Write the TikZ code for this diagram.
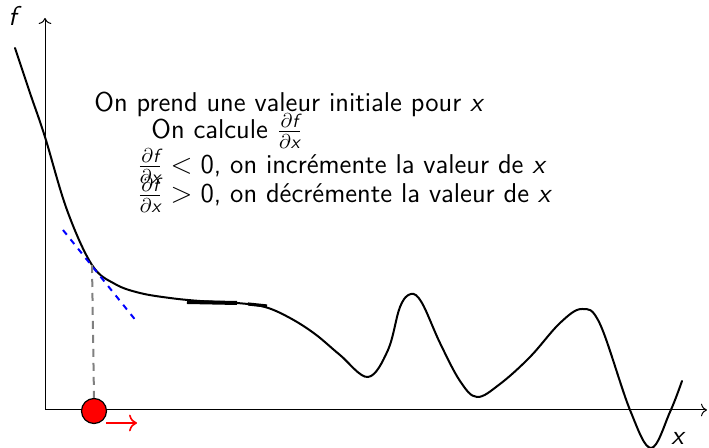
\documentclass[tikz,border=0pt]{standalone}
\usepackage{amsmath}
\usepackage{tikz}
\usetikzlibrary{arrows.meta}
\newcommand{\vf}{\textsf{\itshape f}}
\newcommand{\vx}{\textsf{\itshape x}}
\newcommand{\dfdx}{\frac{\partial\vf}{\partial\vx}}
\tikzset{
  axis/.style={-{To[length=3pt]}, line width=0.5pt},
  curve/.style={line width=1pt, line cap=round},
  flatmark/.style={line width=2pt},
  tangent/.style={dashed, blue, line width=1pt},
  guide/.style={dash pattern=on 4pt off 3pt, gray, line width=1pt},
  ball/.style={circle, draw, fill=red, minimum size=12.5pt, inner sep=0pt, line width=0.6pt},
  move/.style={-{To[length=4pt]}, red, line width=0.8pt},
  txt/.style={anchor=base west, inner sep=0pt, font=\sffamily\fontsize{13.6}{16}\selectfont},
}

\begin{document}
\begin{tikzpicture}[x=0.5pt, y=-0.5pt]
  \useasboundingbox (0,0) rectangle (709,448);

  % axes
  \coordinate (O) at (45,410);
  \coordinate (ytop) at (45,18);
  \coordinate (xend) at (707,410);
  \draw[axis] (O) -- (ytop);
  \draw[axis] (O) -- (xend);
  \node[txt] (flabel) at (8,26) {\itshape f};
  \node[txt] (xlabel) at (671,445) {\itshape x};

  % function
  \draw[curve] plot[smooth, tension=0.6] coordinates {
    (15,48) (30,93) (45,137) (67,210) (92,265) (115,284) (140,293)
    (170,298) (200,301) (237,303) (265,307) (290,318) (315,334)
    (340,355) (368,377) (388,350) (400,307) (411,294) (422,303)
    (440,343) (460,381) (477,397) (500,384) (530,357) (560,323)
    (582,309) (600,324) (630,410) (651,448) (670,412) (682,381)};
  \draw[flatmark] (187,302) -- (237,303);
  \draw[flatmark, line width=1.6pt] (248,304) -- (267,306);

  % tangent at the starting point
  \coordinate (tp) at (92,265);
  \coordinate (t1) at (63,230);
  \coordinate (t2) at (137,322);
  \draw[tangent] (t1) -- (t2);

  \node[ball] (ball) at (94,411) {};
  \draw[guide] (tp) -- (ball.north);
  \coordinate (m1) at (106,423);
  \coordinate (m2) at (137,423);
  \draw[move] (m1) -- (m2);

  % steps
  \node[txt] (s1) at (94,112) {On prend une valeur initiale pour \vx};
  \node[txt] (s2) at (151,139) {On calcule $\dfdx$};
  \node[txt] (s3) at (137,174) {$\dfdx < \textsf{0}$, on incrémente la valeur de \vx};
  \node[txt] (s4) at (137,203) {$\dfdx > \textsf{0}$, on décrémente la valeur de \vx};
\end{tikzpicture}
\end{document}
